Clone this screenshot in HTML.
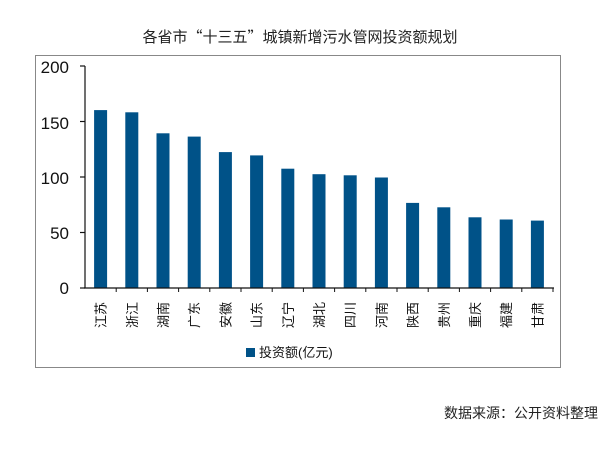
<!DOCTYPE html>
<html><head><meta charset="utf-8"><style>
html,body{margin:0;padding:0;background:#fff;}
svg{display:block;font-family:"Liberation Sans","Noto Sans CJK SC",sans-serif;}
</style></head><body>
<svg width="610" height="449" viewBox="0 0 610 449">
<text x="300" y="42" text-anchor="middle" font-size="15" fill="#222" font-family="Noto Sans CJK SC, sans-serif">各省市“十三五”城镇新增污水管网投资额规划</text>
<rect x="35.5" y="55.5" width="525" height="312" fill="none" stroke="#888" stroke-width="1"/>
<g font-size="17" fill="#111" text-anchor="end">
<text x="69" y="73">200</text><text x="69" y="129">150</text><text x="69" y="184">100</text><text x="69" y="239">50</text><text x="69" y="294">0</text>
</g>
<g fill="#005288">
<rect x="94.1" y="110.1" width="13" height="177.9"/>
<rect x="125.3" y="112.3" width="13" height="175.7"/>
<rect x="156.5" y="133.3" width="13" height="154.7"/>
<rect x="187.7" y="136.6" width="13" height="151.4"/>
<rect x="218.9" y="152.1" width="13" height="135.9"/>
<rect x="250.1" y="155.4" width="13" height="132.6"/>
<rect x="281.3" y="168.7" width="13" height="119.3"/>
<rect x="312.5" y="174.2" width="13" height="113.8"/>
<rect x="343.7" y="175.3" width="13" height="112.7"/>
<rect x="374.9" y="177.5" width="13" height="110.5"/>
<rect x="406.1" y="202.9" width="13" height="85.1"/>
<rect x="437.3" y="207.3" width="13" height="80.7"/>
<rect x="468.5" y="217.3" width="13" height="70.7"/>
<rect x="499.7" y="219.5" width="13" height="68.5"/>
<rect x="530.9" y="220.6" width="13" height="67.4"/>
</g>
<g stroke="#111" stroke-width="1.2">
<line x1="85" y1="66" x2="85" y2="288"/>
<line x1="84" y1="288" x2="554" y2="288"/>
<line x1="80" y1="66" x2="85" y2="66"/><line x1="80" y1="121.5" x2="85" y2="121.5"/><line x1="80" y1="177" x2="85" y2="177"/><line x1="80" y1="232.5" x2="85" y2="232.5"/><line x1="80" y1="288" x2="85" y2="288"/>
</g>
<g stroke="#111" stroke-width="1">
<line x1="116.2" y1="288" x2="116.2" y2="292"/><line x1="147.4" y1="288" x2="147.4" y2="292"/><line x1="178.6" y1="288" x2="178.6" y2="292"/><line x1="209.8" y1="288" x2="209.8" y2="292"/><line x1="241" y1="288" x2="241" y2="292"/><line x1="272.2" y1="288" x2="272.2" y2="292"/><line x1="303.4" y1="288" x2="303.4" y2="292"/><line x1="334.6" y1="288" x2="334.6" y2="292"/><line x1="365.8" y1="288" x2="365.8" y2="292"/><line x1="397" y1="288" x2="397" y2="292"/><line x1="428.2" y1="288" x2="428.2" y2="292"/><line x1="459.4" y1="288" x2="459.4" y2="292"/><line x1="490.6" y1="288" x2="490.6" y2="292"/><line x1="521.8" y1="288" x2="521.8" y2="292"/><line x1="553" y1="288" x2="553" y2="292"/>
</g>
<g font-size="13" fill="#111" text-anchor="end">
<text transform="translate(105.6,302) rotate(-90)">江苏</text>
<text transform="translate(136.8,302) rotate(-90)">浙江</text>
<text transform="translate(168,302) rotate(-90)">湖南</text>
<text transform="translate(199.2,302) rotate(-90)">广东</text>
<text transform="translate(230.4,302) rotate(-90)">安徽</text>
<text transform="translate(261.6,302) rotate(-90)">山东</text>
<text transform="translate(292.8,302) rotate(-90)">辽宁</text>
<text transform="translate(324,302) rotate(-90)">湖北</text>
<text transform="translate(355.2,302) rotate(-90)">四川</text>
<text transform="translate(386.4,302) rotate(-90)">河南</text>
<text transform="translate(417.6,302) rotate(-90)">陕西</text>
<text transform="translate(448.8,302) rotate(-90)">贵州</text>
<text transform="translate(480,302) rotate(-90)">重庆</text>
<text transform="translate(511.2,302) rotate(-90)">福建</text>
<text transform="translate(542.4,302) rotate(-90)">甘肃</text>
</g>
<rect x="246" y="348" width="9" height="9" fill="#005288"/>
<text x="259" y="357" font-size="13" fill="#111">投资额(亿元)</text>
<text x="598" y="418" text-anchor="end" font-size="14" fill="#222">数据来源：公开资料整理</text>
</svg>
</body></html>
